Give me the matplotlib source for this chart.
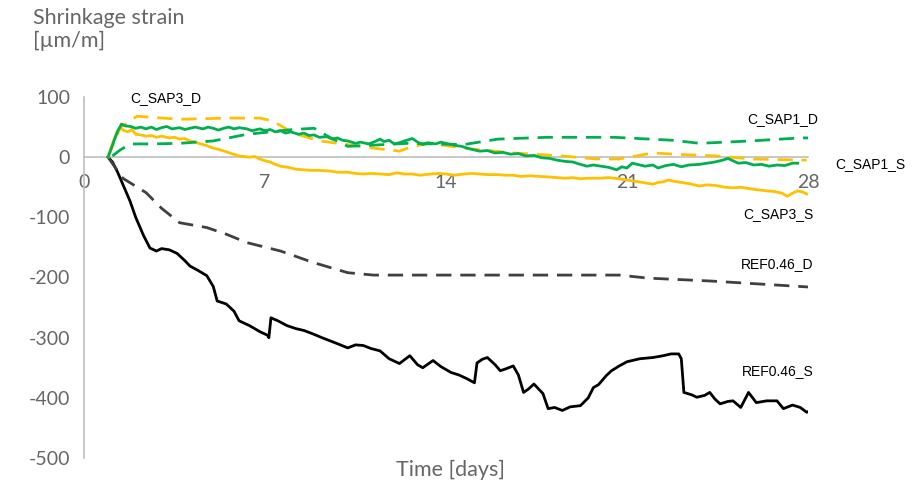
import matplotlib
matplotlib.use("Agg")
import matplotlib.pyplot as plt

plt.rcParams["axes.unicode_minus"] = False

# ---- data (days, strain in µm/m) ----
ref_s_days = [0.93, 1.1, 1.3, 1.5, 1.78, 2.0, 2.3, 2.55, 2.8, 3.0, 3.3, 3.6, 3.9, 4.1, 4.4,
              4.75, 5.0, 5.15, 5.5, 5.8, 6.0, 6.4, 6.8, 7.1, 7.15, 7.23, 7.5, 7.85, 8.2, 8.5,
              8.87, 9.2, 9.5, 9.8, 10.2, 10.5, 10.8, 11.1, 11.45, 11.8, 12.2, 12.6, 12.9, 13.1,
              13.5, 13.8, 14.2, 14.5, 14.8, 15.1, 15.2, 15.4, 15.6, 15.9, 16.1, 16.3, 16.6, 16.8,
              17.0, 17.2, 17.4, 17.75, 17.95, 18.2, 18.5, 18.8, 19.2, 19.5, 19.7, 19.9, 20.2,
              20.4, 20.7, 21.0, 21.5, 22.0, 22.4, 22.7, 23.0, 23.1, 23.2, 23.5, 23.7, 24.0, 24.2,
              24.4, 24.6, 24.9, 25.1, 25.4, 25.7, 26.0, 26.4, 26.8, 27.05, 27.4, 27.7, 27.95, 28.1]
ref_s_vals = [0, -8, -25, -45, -73, -100, -130, -151, -156, -152, -154, -160, -172, -181, -188,
              -197, -215, -239, -244, -256, -272, -280, -290, -296, -300, -267, -272, -280, -285, -288,
              -294, -300, -305, -310, -317, -312, -313, -318, -322, -335, -343, -330, -345, -350,
              -338, -348, -358, -362, -368, -375, -342, -336, -333, -345, -355, -352, -347, -362,
              -391, -385, -377, -393, -418, -416, -421, -415, -413, -400, -383, -378, -363,
              -355, -347, -340, -335, -333, -330, -327, -327, -335, -391, -395, -399, -396, -391,
              -402, -410, -406, -405, -416, -391, -408, -405, -405, -418, -412, -416, -424, -421]

ref_d_days = [0.93, 1.5, 2.4, 3.0, 3.7, 4.75, 5.5, 6.3, 7.6, 8.86, 10.2, 11.2, 14.0, 17.0, 20.7, 21.8, 24.3, 28.1]
ref_d_vals = [0, -35, -59, -85, -109, -117, -128, -142, -156, -175, -192, -196, -196, -196, -196, -201, -206, -216]

sap3_d_days = [0.93, 1.4, 2.05, 3.7, 5.65, 6.8, 7.3, 8.1, 9.1, 10.2, 11.2, 12.2, 12.7, 13.4, 14.7,
               16.6, 18.5, 19.8, 20.7, 22.0, 22.8, 24.5, 25.8, 27.95]
sap3_d_vals = [0, 49, 68, 63, 65, 65, 60, 40, 27, 21, 15, 10, 18, 23, 15,
               7, 2, -3, -3, 7, 5, 2, -3, -5]

sap3_s_days = [0.93, 1.1, 1.25, 1.4, 1.55, 1.7, 1.85, 2.0, 2.2, 2.4, 2.6, 2.8, 3.0, 3.3, 3.5, 3.7,
               3.9, 4.1, 4.3, 4.5, 4.7, 5.0, 5.2, 5.5, 5.7, 6.0, 6.2, 6.4, 6.6, 6.8, 7.0, 7.2,
               7.4, 7.6, 7.9, 8.2, 8.5, 8.8, 9.1, 9.5, 9.8, 10.2, 10.5, 10.8, 11.1, 11.45, 11.8,
               12.1, 12.4, 12.7, 13.0, 13.4, 13.7, 14.0, 14.3, 14.7, 15.0, 15.3, 15.6, 16.0, 16.3,
               16.6, 16.9, 17.25, 17.6, 18.0, 18.3, 18.6, 18.9, 19.2, 19.5, 19.9, 20.3, 20.7, 21.0,
               21.3, 21.6, 22.0, 22.2, 22.4, 22.6, 22.8, 23.1, 23.4, 23.8, 24.1, 24.4, 24.8, 25.1,
               25.4, 25.7, 26.0, 26.4, 26.7, 27.0, 27.2, 27.4, 27.6, 27.8, 27.95]
sap3_s_vals = [0, 22, 40, 49, 44, 42, 46, 38, 37, 35, 36, 33, 35, 32, 33, 30,
               31, 27, 25, 22, 20, 15, 13, 9, 6, 2, 1, 0, 1, -3, -6, -8,
               -12, -15, -17, -20, -21, -22, -22, -23, -25, -25, -27, -28, -27, -28, -29,
               -26, -28, -28, -30, -28, -27, -28, -30, -28, -27, -28, -29, -29, -30,
               -30, -32, -31, -32, -33, -34, -35, -34, -36, -35, -35, -34, -36, -38,
               -40, -42, -45, -42, -41, -38, -40, -42, -44, -48, -46, -47, -50, -51,
               -50, -52, -54, -56, -57, -60, -65, -60, -56, -58, -61]

sap1_s_days = [0.93, 1.1, 1.3, 1.45, 1.6, 1.8, 2.0, 2.2, 2.4, 2.6, 2.8, 3.0, 3.2, 3.4, 3.7, 3.9,
               4.1, 4.3, 4.6, 4.8, 5.0, 5.2, 5.4, 5.6, 5.8, 6.0, 6.3, 6.5, 6.8, 7.0, 7.2, 7.4,
               7.6, 7.8, 8.0, 8.3, 8.5, 8.7, 8.9, 9.1, 9.4, 9.6, 9.8, 10.0, 10.2, 10.5, 10.7,
               11.0, 11.2, 11.45, 11.6, 11.8, 12.0, 12.2, 12.4, 12.7, 12.9, 13.1, 13.3, 13.6,
               13.8, 14.0, 14.3, 14.6, 14.9, 15.3, 15.6, 15.9, 16.2, 16.5, 16.8, 17.1, 17.4,
               17.7, 18.0, 18.3, 18.6, 18.9, 19.2, 19.45, 19.7, 20.0, 20.3, 20.6, 20.8, 21.0,
               21.2, 21.4, 21.7, 22.0, 22.2, 22.5, 22.8, 23.1, 23.4, 23.8, 24.1, 24.4, 24.7,
               24.9, 25.1, 25.3, 25.6, 25.9, 26.2, 26.5, 26.8, 27.1, 27.4, 27.6]
sap1_s_vals = [0, 20, 43, 55, 52, 51, 48, 50, 47, 50, 46, 49, 51, 47, 49, 46,
               48, 50, 47, 50, 48, 45, 48, 50, 47, 49, 47, 44, 47, 44, 46, 42,
               44, 40, 42, 38, 40, 36, 37, 33, 34, 30, 32, 28, 27, 23, 25,
               22, 25, 30, 26, 28, 22, 24, 27, 31, 25, 21, 24, 22,
               25, 23, 20, 18, 14, 10, 11, 7, 8, 5, 6, 2, 3,
               -1, -2, -5, -7, -8, -12, -15, -13, -15, -17, -21, -16, -18,
               -10, -12, -15, -13, -18, -14, -12, -16, -13, -12, -10, -8, -5,
               -2, -6, -10, -9, -13, -12, -15, -13, -14, -10, -10]

sap1_d_days = [1.1, 1.4, 1.8, 2.6, 3.7, 5.0, 6.3, 7.2, 8.1, 8.9, 9.5, 10.2, 11.2, 12.5, 13.5,
               14.7, 16.0, 17.9, 20.5, 21.9, 22.8, 23.8, 25.8, 27.7, 28.2]
sap1_d_vals = [2, 12, 22, 22, 23, 27, 38, 42, 46, 48, 33, 18, 20, 23, 22,
               21, 30, 33, 33, 30, 28, 23, 27, 32, 32]

# ---- figure ----
fig = plt.figure(figsize=(9.21, 4.90), dpi=100)
ax = fig.add_axes([84 / 921, 1 - 458 / 490, (808 - 84) / 921, (458 - 97) / 490])

orange = "#FFC000"
green = "#00B050"
lw = 2.0
dash = (0, (5.5, 3.2))

ax.plot(ref_s_days, ref_s_vals, color="black", lw=lw, solid_joinstyle="round")
ax.plot(ref_d_days, ref_d_vals, color="#404040", lw=lw, linestyle=dash)
ax.plot(sap3_d_days, sap3_d_vals, color=orange, lw=lw, linestyle=dash)
ax.plot(sap3_s_days, sap3_s_vals, color=orange, lw=lw)
ax.plot(sap1_d_days, sap1_d_vals, color=green, lw=lw, linestyle=dash)
ax.plot(sap1_s_days, sap1_s_vals, color=green, lw=lw)

ax.set_xlim(0, 28)
ax.set_ylim(-500, 100)
ax.set_xticks([0, 7, 14, 21, 28])
ax.set_yticks([100, 0, -100, -200, -300, -400, -500])

ax.spines["top"].set_visible(False)
ax.spines["right"].set_visible(False)
ax.spines["bottom"].set_position(("data", 0))
ax.spines["bottom"].set_color("#BFBFBF")
ax.spines["left"].set_color("#BFBFBF")
ax.spines["bottom"].set_linewidth(1.2)
ax.spines["left"].set_linewidth(1.2)
ax.spines["bottom"].set_zorder(0.5)
ax.tick_params(axis="x", length=0, pad=12, labelsize=14, labelcolor="#666666")
ax.tick_params(axis="y", length=0, pad=10, labelsize=14, labelcolor="#666666")
for lab in ax.get_xticklabels() + ax.get_yticklabels():
    lab.set_family("Lato")

# series labels
lab_kw = dict(fontsize=10, family="Liberation Sans", color="black", clip_on=False)
ax.text(1.78, 98, "C_SAP3_D", ha="left", va="center", **lab_kw)
ax.text(28.4, 63, "C_SAP1_D", ha="right", va="center", **lab_kw)
ax.text(29.05, -12, "C_SAP1_S", ha="left", va="center", **lab_kw)
ax.text(28.2, -95, "C_SAP3_S", ha="right", va="center", **lab_kw)
ax.text(28.2, -177, "REF0.46_D", ha="right", va="center", **lab_kw)
ax.text(28.2, -355, "REF0.46_S", ha="right", va="center", **lab_kw)

fig.text(33 / 921, 1 - 8 / 490, "Shrinkage strain\n[µm/m]", ha="left", va="top",
         fontsize=15.5, family="Lato", color="#666666", linespacing=1.2)
fig.text(450 / 921, 1 - 470 / 490, "Time [days]", ha="center", va="center",
         fontsize=15.5, family="Lato", color="#666666")

fig.savefig("out.png", dpi=100)
